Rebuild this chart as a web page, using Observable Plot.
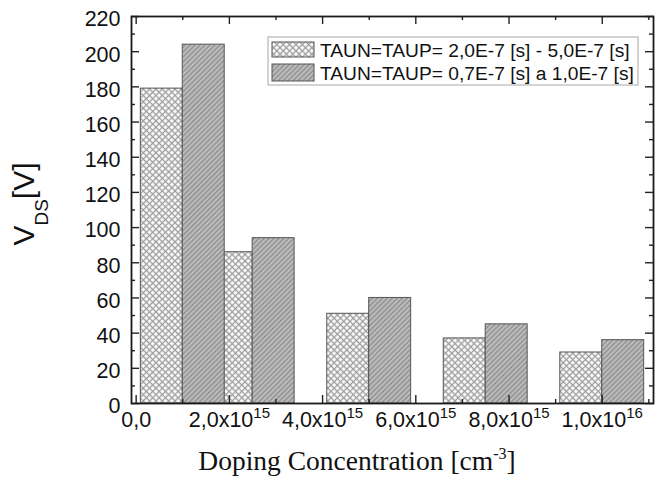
<!DOCTYPE html>
<html><head><meta charset="utf-8">
<script src="https://cdn.jsdelivr.net/npm/d3@7"></script>
<script src="https://cdn.jsdelivr.net/npm/@observablehq/plot@0.6"></script>
<style>
body{margin:0;background:#fff;}
#chart{position:relative;width:666px;height:484px;}
</style></head><body><div id="chart"></div>
<script>
// ---- data ----
const concentrations = [1e15, 2.5e15, 5e15, 7.5e15, 1e16];
const vdsTauLong = [179, 86, 51, 37, 29];   // TAUN=TAUP= 2,0E-7 [s] - 5,0E-7 [s]
const vdsTauShort = [204, 94, 60, 45, 36];  // TAUN=TAUP= 0,7E-7 [s] a 1,0E-7 [s]
const seriesLabels = ["TAUN=TAUP= 2,0E-7 [s] - 5,0E-7 [s]", "TAUN=TAUP= 0,7E-7 [s] a 1,0E-7 [s]"];
const yMajorTicks = [0, 20, 40, 60, 80, 100, 120, 140, 160, 180, 200, 220];
const yMinorTicks = [10, 30, 50, 70, 90, 110, 130, 150, 170, 190, 210];
const xMajorTicks = [0, 2e15, 4e15, 6e15, 8e15, 1e16];
const xMinorTicks = [1e15, 3e15, 5e15, 7e15, 9e15, 1.1e16];
const xTickBase = ["0,0", "2,0x10", "4,0x10", "6,0x10", "8,0x10", "1,0x10"];
const xTickExp = ["", "15", "15", "15", "15", "16"];
const xTitle = "Doping Concentration [cm";
const xTitleExp = "-3";
const yTitle = ["V", "DS", "[V]"];

// ---- layout ----
const W = 666, H = 484, ML = 131, MR = 13, MT = 16, MB = 81;
const FW = W - ML - MR, FH = H - MT - MB;
const barW = 0.9e15;
const sans = "'Liberation Sans', Arial, sans-serif";

const rows1 = concentrations.map((c, i) => ({c, v: vdsTauLong[i]}));
const rows2 = concentrations.map((c, i) => ({c, v: vdsTauShort[i]}));
const xLabel = new Map(xMajorTicks.map((t, i) => [t, xTickBase[i]]));
const tk = {stroke: "#222", strokeWidth: 1.4};

const svg = Plot.plot({
  width: W, height: H, marginLeft: ML, marginRight: MR, marginTop: MT, marginBottom: MB,
  style: {fontFamily: sans, background: "#fff", color: "#111"},
  x: {type: "linear", domain: [-1e14, 1.11e16], label: null},
  y: {type: "linear", domain: [0, 220], label: null},
  marks: [
    Plot.rect(rows1, {x1: d => d.c - barW, x2: "c", y1: 0, y2: "v", fill: "url(#crossP)", stroke: "#555", strokeWidth: 1}),
    Plot.rect(rows2, {x1: "c", x2: d => d.c + barW, y1: 0, y2: "v", fill: "url(#hatchP)", stroke: "#555", strokeWidth: 1}),
    Plot.tickY(yMajorTicks, {y: d => d, insetRight: FW - 8, ...tk}),
    Plot.tickY(yMinorTicks, {y: d => d, insetRight: FW - 4, ...tk}),
    Plot.tickY(yMajorTicks, {y: d => d, insetLeft: FW - 8, ...tk}),
    Plot.tickY(yMinorTicks, {y: d => d, insetLeft: FW - 4, ...tk}),
    Plot.tickX(xMajorTicks, {x: d => d, insetTop: FH - 8, ...tk}),
    Plot.tickX(xMinorTicks, {x: d => d, insetTop: FH - 4, ...tk}),
    Plot.tickX(xMajorTicks, {x: d => d, insetBottom: FH - 8, ...tk}),
    Plot.tickX(xMinorTicks, {x: d => d, insetBottom: FH - 4, ...tk}),
    Plot.frame({stroke: "#1a1a1a", strokeWidth: 1.8}),
    Plot.axisY(yMajorTicks, {tickSize: 0, tickPadding: 11, fontSize: 21.5, dy: 3, tickFormat: d => String(d), label: null, fill: "#111"}),
    Plot.axisX(xMajorTicks, {tickSize: 0, tickPadding: 8, fontSize: 21.5, tickFormat: d => xLabel.get(d), label: null, fill: "#111"})
  ]
});

const s = d3.select(svg);
const defs = s.insert("defs", ":first-child");
const p1 = defs.append("pattern").attr("id", "crossP").attr("patternUnits", "userSpaceOnUse")
  .attr("width", 4.5).attr("height", 4.5).attr("patternTransform", "rotate(45)");
p1.append("rect").attr("width", 4.5).attr("height", 4.5).attr("fill", "#fff");
p1.append("path").attr("d", "M2.25,0V4.5M0,2.25H4.5").attr("stroke", "#9c9c9c").attr("stroke-width", 1.3).attr("fill", "none");
const p2 = defs.append("pattern").attr("id", "hatchP").attr("patternUnits", "userSpaceOnUse")
  .attr("width", 3.5).attr("height", 3.5).attr("patternTransform", "rotate(45)");
p2.append("rect").attr("width", 3.5).attr("height", 3.5).attr("fill", "#bdbdbd");
p2.append("path").attr("d", "M1.75,0V3.5").attr("stroke", "#7c7c7c").attr("stroke-width", 1).attr("fill", "none");

// superscripts on x tick labels
s.selectAll('g[aria-label="x-axis tick label"] text').each(function(_, i) {
  const e = xTickExp[i];
  if (e) d3.select(this).append("tspan").attr("dy", "-0.58em").attr("font-size", "15px").text(e);
});

// y title
const yt = s.append("text").attr("transform", "translate(34,204) rotate(-90)")
  .attr("text-anchor", "middle").attr("font-family", sans).attr("font-size", 30).attr("fill", "#111");
yt.append("tspan").text(yTitle[0]);
yt.append("tspan").attr("font-size", 19).attr("dy", 14).text(yTitle[1]);
yt.append("tspan").attr("dy", -14).text(yTitle[2]);

// x title
const xt = s.append("text").attr("x", 357).attr("y", 470).attr("text-anchor", "middle")
  .attr("font-family", "'Liberation Serif', 'Times New Roman', serif").attr("font-size", 27.5).attr("fill", "#111");
xt.append("tspan").text(xTitle);
xt.append("tspan").attr("font-size", 16).attr("dy", -11).text(xTitleExp);
xt.append("tspan").attr("dy", 11).text("]");

// legend
const lg = s.append("g").attr("font-family", sans).attr("font-size", 19.2).attr("fill", "#111")
  .attr("text-anchor", "start");
lg.append("rect").attr("x", 268).attr("y", 37).attr("width", 370).attr("height", 48)
  .attr("fill", "#fff").attr("stroke", "#a8a8a8").attr("stroke-width", 1);
const fills = ["url(#crossP)", "url(#hatchP)"];
const sy = [42, 64], sh = [15, 17], ty = [56.5, 80];
seriesLabels.forEach((lab, i) => {
  lg.append("rect").attr("x", 272).attr("y", sy[i]).attr("width", 42).attr("height", sh[i])
    .attr("fill", fills[i]).attr("stroke", "#555").attr("stroke-width", 1);
  lg.append("text").attr("x", 320).attr("y", ty[i]).attr("text-anchor", "start").text(lab);
});

document.getElementById("chart").appendChild(svg);
</script></body></html>
